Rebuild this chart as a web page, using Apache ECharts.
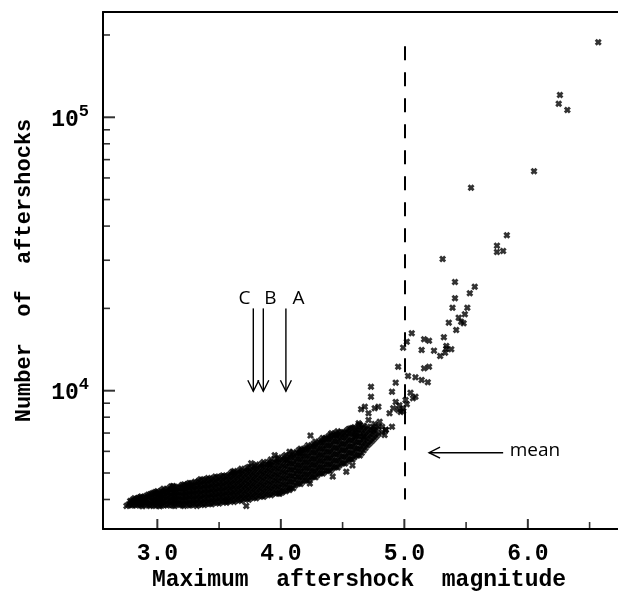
<!DOCTYPE html>
<html><head><meta charset="utf-8">
<script src="https://cdn.jsdelivr.net/npm/echarts@6/dist/echarts.min.js"></script>
<style>html,body{margin:0;padding:0;background:#fff}#c{width:618px;height:596px}</style>
</head><body><div id="c"></div>
<script>
// ---- axis ranges & ticks ----
const xMin = 2.56, xMax = 6.73;
const yMin = 3120, yMax = 242700;
const majorX = [3, 4, 5, 6];
const minorX = [3.5, 4.5, 5.5, 6.5];
const majorY = [10000, 100000];
const minorY = [4000, 5000, 6000, 7000, 8000, 9000, 20000, 30000, 40000, 50000, 60000, 70000, 80000, 90000, 200000];

// ---- dense band: each row = [magnitude, counts...] ----
const bandColumns = [
  [2.75, 3790],
  [2.78, 3870, 3950],
  [2.80, 3820, 3990],
  [2.83, 3800, 3900, 4020],
  [2.86, 3850, 3960, 4080],
  [2.88, 3780, 3920, 4050],
  [2.91, 3830, 3990, 4120],
  [2.94, 3790, 3880, 4040, 4180],
  [2.97, 3810, 3940, 4090, 4230],
  [3.00, 3860, 3990, 4130, 4290],
  [3.02, 3780, 3920, 4060, 4200],
  [3.05, 3830, 3970, 4110, 4260, 4380],
  [3.08, 3800, 3940, 4080, 4220, 4350],
  [3.11, 3870, 4010, 4150, 4300, 4460],
  [3.14, 3790, 3930, 4070, 4220, 4390],
  [3.17, 3850, 3990, 4140, 4290, 4450],
  [3.20, 3810, 3960, 4100, 4260, 4410, 4520],
  [3.23, 3870, 4030, 4180, 4340, 4490],
  [3.26, 3800, 3950, 4110, 4270, 4430, 4600],
  [3.29, 3860, 4020, 4190, 4350, 4520],
  [3.32, 3790, 3940, 4100, 4270, 4440, 4620],
  [3.35, 3880, 4040, 4210, 4380, 4560, 4740],
  [3.38, 3820, 3980, 4150, 4320, 4500, 4680],
  [3.41, 3900, 4070, 4240, 4420, 4600, 4790],
  [3.44, 3840, 4000, 4170, 4350, 4530, 4720],
  [3.47, 3930, 4100, 4280, 4460, 4650, 4850],
  [3.50, 3870, 4040, 4210, 4390, 4580, 4780],
  [3.53, 3960, 4130, 4310, 4500, 4700, 4900],
  [3.56, 3890, 4060, 4240, 4430, 4630, 4840],
  [3.59, 3990, 4170, 4350, 4540, 4740, 4960],
  [3.62, 3920, 4100, 4280, 4470, 4680, 4890, 5080],
  [3.65, 4020, 4200, 4390, 4590, 4800, 5020],
  [3.68, 3950, 4130, 4320, 4520, 4730, 4950, 5180],
  [3.71, 4060, 4250, 4450, 4660, 4880, 5110],
  [3.74, 3990, 4170, 4370, 4580, 4800, 5030, 5260],
  [3.77, 4100, 4300, 4510, 4730, 4960, 5200],
  [3.80, 4040, 4230, 4440, 4660, 4890, 5130, 5370],
  [3.83, 4150, 4360, 4580, 4810, 5050, 5300],
  [3.86, 4090, 4290, 4510, 4740, 4980, 5230, 5480],
  [3.89, 4200, 4410, 4640, 4880, 5130, 5390],
  [3.92, 4150, 4360, 4580, 4820, 5070, 5330, 5600],
  [3.95, 4260, 4480, 4710, 4960, 5220, 5490],
  [3.98, 4210, 4430, 4660, 4900, 5160, 5430, 5700],
  [4.01, 4330, 4560, 4800, 5060, 5330, 5610],
  [4.04, 4290, 4510, 4750, 5000, 5270, 5550, 5820],
  [4.07, 4420, 4650, 4900, 5160, 5440, 5730],
  [4.10, 4400, 4630, 4870, 5130, 5400, 5690, 5960],
  [4.13, 4600, 4840, 5090, 5350, 5630, 5920],
  [4.16, 4560, 4800, 5050, 5310, 5590, 5880, 6130],
  [4.19, 4720, 4960, 5220, 5490, 5780, 6080],
  [4.22, 4690, 4930, 5190, 5460, 5750, 6050, 6320],
  [4.25, 4850, 5100, 5370, 5650, 5950, 6260],
  [4.28, 4820, 5070, 5340, 5620, 5920, 6230, 6520],
  [4.31, 5000, 5260, 5540, 5830, 6140, 6460],
  [4.34, 4980, 5240, 5510, 5800, 6110, 6430, 6720],
  [4.37, 5120, 5390, 5680, 5990, 6320, 6650],
  [4.40, 5090, 5360, 5650, 5960, 6290, 6620, 6900],
  [4.43, 5270, 5560, 5870, 6190, 6530, 6860],
  [4.46, 5240, 5530, 5840, 6160, 6500, 6830, 7100],
  [4.49, 5450, 5750, 6070, 6400, 6750, 7050],
  [4.52, 5420, 5720, 6040, 6370, 6720, 7020],
  [4.55, 5630, 5940, 6270, 6610, 6970, 7250],
  [4.58, 5600, 5910, 6240, 6580, 6940, 7300],
  [4.61, 5830, 6150, 6490, 6850, 7200],
  [4.64, 5800, 6120, 6460, 6820, 7180, 7500],
  [4.67, 6050, 6390, 6750, 7110, 7450],
  [4.70, 6300, 6650, 7000, 7380],
  [4.73, 6500, 6880, 7250],
  [4.76, 6720, 7100, 7550],
  [4.79, 6950, 7400],
  [4.82, 7050],
  [4.85, 7200]
];
// second, interleaved set of marks inside the solid band
const bandColumnsB = [
  [2.765, 3830],
  [2.79, 3800, 3930],
  [2.815, 3860, 3960, 4040],
  [2.845, 3830, 3930, 4050],
  [2.87, 3810, 3900, 4010, 4100],
  [2.895, 3860, 3960, 4080],
  [2.925, 3810, 3930, 4080, 4160],
  [2.955, 3840, 3970, 4110, 4210],
  [2.985, 3790, 3920, 4060, 4200, 4260],
  [3.01, 3830, 3950, 4100, 4240],
  [3.035, 3800, 3900, 4030, 4180, 4320],
  [3.065, 3860, 4010, 4150, 4300],
  [3.095, 3830, 3970, 4110, 4260, 4400],
  [3.125, 3800, 3940, 4080, 4230, 4380, 4480],
  [3.155, 3860, 4000, 4150, 4300, 4420],
  [3.185, 3830, 3970, 4120, 4270, 4440],
  [3.215, 3790, 3940, 4100, 4250, 4420, 4540],
  [3.245, 3840, 3990, 4150, 4310, 4470, 4560],
  [3.275, 3820, 3980, 4140, 4310, 4480, 4590],
  [3.305, 3860, 4010, 4170, 4340, 4510, 4640],
  [3.335, 3830, 3990, 4150, 4320, 4500, 4680],
  [3.365, 3850, 4010, 4180, 4350, 4530, 4720],
  [3.395, 3860, 4030, 4200, 4370, 4550, 4740],
  [3.425, 3870, 4040, 4210, 4390, 4570, 4760],
  [3.455, 3890, 4060, 4230, 4410, 4590, 4790],
  [3.485, 3900, 4070, 4250, 4430, 4620, 4820],
  [3.515, 3920, 4090, 4270, 4450, 4640, 4850],
  [3.545, 3930, 4100, 4280, 4470, 4670, 4870],
  [3.575, 3940, 4120, 4300, 4490, 4690, 4900],
  [3.605, 3960, 4140, 4320, 4510, 4710, 4930, 5040],
  [3.635, 3970, 4150, 4340, 4540, 4740, 4960],
  [3.665, 3990, 4170, 4360, 4560, 4770, 4990, 5110],
  [3.695, 4010, 4190, 4390, 4590, 4810, 5030],
  [3.725, 4030, 4210, 4410, 4620, 4840, 5070, 5210],
  [3.755, 4050, 4240, 4440, 4650, 4880, 5110],
  [3.785, 4070, 4260, 4470, 4690, 4920, 5160, 5300],
  [3.815, 4100, 4290, 4500, 4730, 4960, 5210],
  [3.845, 4120, 4320, 4540, 4770, 5010, 5260, 5400],
  [3.875, 4150, 4350, 4570, 4810, 5050, 5310],
  [3.905, 4180, 4390, 4610, 4850, 5100, 5360, 5500],
  [3.935, 4200, 4420, 4650, 4890, 5140, 5410],
  [3.965, 4230, 4450, 4680, 4930, 5190, 5460, 5620],
  [3.995, 4270, 4490, 4730, 4980, 5240, 5520],
  [4.025, 4310, 4540, 4780, 5030, 5300, 5580, 5740],
  [4.055, 4350, 4580, 4820, 5080, 5350, 5640],
  [4.085, 4410, 4640, 4880, 5140, 5420, 5710, 5870],
  [4.115, 4500, 4740, 4980, 5240, 5510, 5800],
  [4.145, 4580, 4820, 5070, 5330, 5610, 5900, 6050],
  [4.175, 4640, 4880, 5130, 5400, 5680, 5980],
  [4.205, 4700, 4950, 5210, 5480, 5770, 6070, 6200],
  [4.235, 4770, 5020, 5280, 5560, 5850, 6160],
  [4.265, 4840, 5090, 5360, 5640, 5940, 6250, 6400],
  [4.295, 4910, 5170, 5440, 5730, 6030, 6350],
  [4.325, 4990, 5250, 5530, 5820, 6130, 6450, 6600],
  [4.355, 5050, 5320, 5600, 5900, 6210, 6540],
  [4.385, 5110, 5380, 5670, 5980, 6300, 6640, 6800],
  [4.415, 5180, 5460, 5760, 6070, 6400, 6740],
  [4.445, 5260, 5550, 5850, 6170, 6510, 6850, 7000],
  [4.475, 5340, 5640, 5950, 6280, 6620, 6950],
  [4.505, 5430, 5730, 6050, 6380, 6730, 7050],
  [4.535, 5520, 5830, 6150, 6490, 6840, 7150],
  [4.565, 5610, 5920, 6250, 6590, 6950, 7280],
  [4.595, 5710, 6030, 6360, 6710, 7070, 7350],
  [4.625, 5810, 6130, 6470, 6830, 7190],
  [4.655, 5920, 6250, 6600, 6960, 7320],
  [4.685, 6170, 6510, 6870, 7250],
  [4.715, 6400, 6760, 7130],
  [4.745, 6600, 6980, 7380],
  [4.775, 6830, 7250]
];

// ---- scattered points around the band ----
const bandOutliers = [
  [3.72, 3790], [3.56, 3930], [4.01, 4240], [4.07, 4330], [3.99, 4200], [4.235, 4580],
  [4.42, 4850], [4.53, 5050], [4.58, 5330],
  [3.62, 5010], [3.76, 5430], [3.91, 5350], [4.05, 5580], [4.155, 5900],
  [3.95, 5810], [4.07, 5980], [4.17, 6070], [3.13, 4460],
  [4.24, 6850], [4.36, 6700], [4.41, 6990], [4.45, 6890], [4.60, 6790],
  [4.67, 6790], [4.63, 7490], [4.61, 6990], [4.63, 7600]
];
const nearMeanPoints = [
  [4.71, 7815], [4.80, 7703], [4.82, 7385], [4.75, 7184], [4.85, 7184], [4.84, 6887],
  [4.90, 7385], [4.71, 8268], [4.88, 8268], [4.65, 8550], [4.76, 8620], [4.79, 8740],
  [4.68, 8740], [4.73, 10340], [4.73, 9507],
  [4.93, 9094], [4.96, 8850], [4.99, 8620], [4.95, 8500], [5.01, 9250], [4.91, 8620],
  [4.97, 8360], [5.02, 8930], [4.99, 8420],
  [4.90, 9916], [5.05, 9833], [5.09, 9507], [5.07, 9377], [4.93, 10700],
  [5.03, 11320], [5.09, 11190], [5.14, 10940], [5.19, 10730],
  [4.95, 12240], [5.16, 12070], [5.20, 12240]
];
const upperPoints = [
  [4.99, 14370], [5.02, 15110], [5.06, 16220], [5.16, 15420], [5.20, 15240], [5.32, 15680],
  [5.14, 14090], [5.24, 14010], [5.34, 14570], [5.34, 14240], [5.38, 14170], [5.29, 13400],
  [5.33, 13770], [5.42, 16670], [5.36, 17740], [5.46, 17880], [5.48, 17640], [5.44, 18500],
  [5.49, 19030], [5.39, 20120], [5.51, 20120], [5.41, 21780], [5.53, 22710], [5.57, 24010],
  [5.41, 24980], [5.31, 30320], [5.75, 32160], [5.80, 32430], [5.75, 33920], [5.83, 37020],
  [5.54, 55270], [6.05, 63460], [6.26, 120600], [6.25, 112100], [6.32, 106300], [6.57, 188000]
];

// ---- annotations (data coordinates) ----
const arrowLetters = ['C', 'B', 'A'];
const arrowMag = [3.777, 3.858, 4.041];
const arrowTopCount = 20000, arrowTipCount = 9950;
const letterMag = [3.705, 3.916, 4.144];
const letterCount = 21800;
const meanTail = [5.80, 5930], meanTip = [5.20, 5930];
const meanText = 'mean', meanTextPos = [5.853, 6060];
const meanLineTop = 182000, meanLineBottom = 4000, meanMag = 5.0;

// build point list
const points = [];
bandColumns.concat(bandColumnsB).forEach(row => { for (let i = 1; i < row.length; i++) points.push([row[0], row[i]]); });
bandOutliers.forEach(p => points.push(p));
nearMeanPoints.forEach(p => points.push(p));
upperPoints.forEach(p => points.push(p));

const arrowData = arrowMag.map(m => [m, arrowTopCount, m, arrowTipCount]);
arrowData.push([meanTail[0], meanTail[1], meanTip[0], meanTip[1]]);
const textData = letterMag.map((m, i) => [m, letterCount]);
textData.push(meanTextPos);
const textStrings = arrowLetters.concat([meanText]);

const mono = '"Liberation Mono", monospace';
const sans = '"Open Sans", "Noto Sans", sans-serif';
const crossPath = 'path://M0,2.8L2.8,0L5,2.2L7.2,0L10,2.8L7.8,5L10,7.2L7.2,10L5,7.8L2.8,10L0,7.2L2.2,5Z';

function tickSeries(data, size, offset) {
  return { type: 'scatter', xAxisIndex: 0, yAxisIndex: 0, data: data, symbol: 'rect',
    symbolSize: size, symbolOffset: offset, itemStyle: { color: '#000' }, silent: true, clip: false, z: 3 };
}

const chart = echarts.init(document.getElementById('c'), null, { renderer: 'canvas' });
chart.setOption({
  animation: false,
  backgroundColor: '#fff',
  grid: { left: 103, top: 12, right: 0, bottom: 67 },
  xAxis: [
    {
      type: 'value', min: xMin, max: xMax, position: 'bottom',
      axisLine: { show: true, onZero: false, lineStyle: { color: '#000', width: 2 } },
      axisTick: { show: false },
      axisLabel: { show: true, customValues: majorX, formatter: v => Number(v).toFixed(1), color: '#000',
        fontFamily: mono, fontSize: 23, fontWeight: 'bold', margin: 14 },
      splitLine: { show: false }
    },
    {
      type: 'value', min: xMin, max: xMax, position: 'top',
      axisLine: { show: true, onZero: false, lineStyle: { color: '#000', width: 2 } },
      axisTick: { show: false }, axisLabel: { show: false }, splitLine: { show: false }
    }
  ],
  yAxis: [
    {
      type: 'log', min: yMin, max: yMax, position: 'left',
      name: 'Number  of  aftershocks', nameLocation: 'middle', nameGap: 68, nameRotate: 90,
      nameTextStyle: { fontFamily: mono, fontSize: 22, fontWeight: 'bold', color: '#000' },
      axisLine: { show: true, onZero: false, lineStyle: { color: '#000', width: 2 } },
      axisTick: { show: false },
      axisLabel: {
        show: true, customValues: majorY, margin: 14,
        formatter: v => '{a|10}{b|' + Math.round(Math.log10(v)) + '}',
        rich: {
          a: { fontFamily: mono, fontSize: 23, fontWeight: 'bold', color: '#000', padding: [6, 0, 0, 0] },
          b: { fontFamily: mono, fontSize: 17, fontWeight: 'bold', color: '#000', verticalAlign: 'top' }
        }
      },
      splitLine: { show: false }
    }
  ],
  graphic: [
    { type: 'text', x: 359, y: 580, silent: true,
      style: { text: 'Maximum  aftershock  magnitude', fill: '#000', font: 'bold 23px "Liberation Mono", monospace',
        align: 'center', verticalAlign: 'middle' } }
  ],
  series: [
    {
      type: 'scatter', xAxisIndex: 0, yAxisIndex: 0, data: points, symbol: crossPath, symbolSize: 7,
      itemStyle: { color: '#000' }, silent: true, clip: false,
      markLine: {
        silent: true, symbol: ['none', 'none'], label: { show: false },
        lineStyle: { color: '#000', width: 2, type: [14, 12] },
        data: [[{ coord: [meanMag, meanLineTop] }, { coord: [meanMag, meanLineBottom] }]]
      }
    },
    tickSeries(majorX.map(v => [v, yMin]), [2, 10], [0, -5]),
    tickSeries(minorX.map(v => [v, yMin]), [1.6, 7], [0, -3.5]),
    tickSeries(majorY.map(v => [xMin, v]), [12, 2], [6, 0]),
    tickSeries(minorY.map(v => [xMin, v]), [7, 1.6], [3.5, 0]),
    {
      type: 'custom', xAxisIndex: 0, yAxisIndex: 0, data: arrowData, silent: true, clip: false,
      encode: { x: [0, 2], y: [1, 3] },
      renderItem: (params, api) => {
        const p1 = api.coord([api.value(0), api.value(1)]);
        const p2 = api.coord([api.value(2), api.value(3)]);
        const dx = p2[0] - p1[0], dy = p2[1] - p1[1];
        const len = Math.hypot(dx, dy), ux = dx / len, uy = dy / len;
        const hl = 11, hw = 5.5;
        const b = [p2[0] - ux * hl, p2[1] - uy * hl];
        const l = [b[0] - uy * hw, b[1] + ux * hw], r = [b[0] + uy * hw, b[1] - ux * hw];
        return { type: 'group', children: [
          { type: 'line', shape: { x1: p1[0], y1: p1[1], x2: p2[0], y2: p2[1] }, style: { stroke: '#000', lineWidth: 1.4 } },
          { type: 'polyline', shape: { points: [l, p2, r] }, style: { stroke: '#000', fill: null, lineWidth: 1.4 } }
        ] };
      }
    },
    {
      type: 'custom', xAxisIndex: 0, yAxisIndex: 0, data: textData, silent: true, clip: false,
      encode: { x: 0, y: 1 },
      renderItem: (params, api) => {
        const p = api.coord([api.value(0), api.value(1)]);
        const isMean = params.dataIndex === textStrings.length - 1;
        return { type: 'text', x: p[0], y: p[1], style: { text: textStrings[params.dataIndex], fill: '#000',
          font: '19px ' + sans, align: isMean ? 'left' : 'center', verticalAlign: 'middle' } };
      }
    }
  ]
});
</script></body></html>
